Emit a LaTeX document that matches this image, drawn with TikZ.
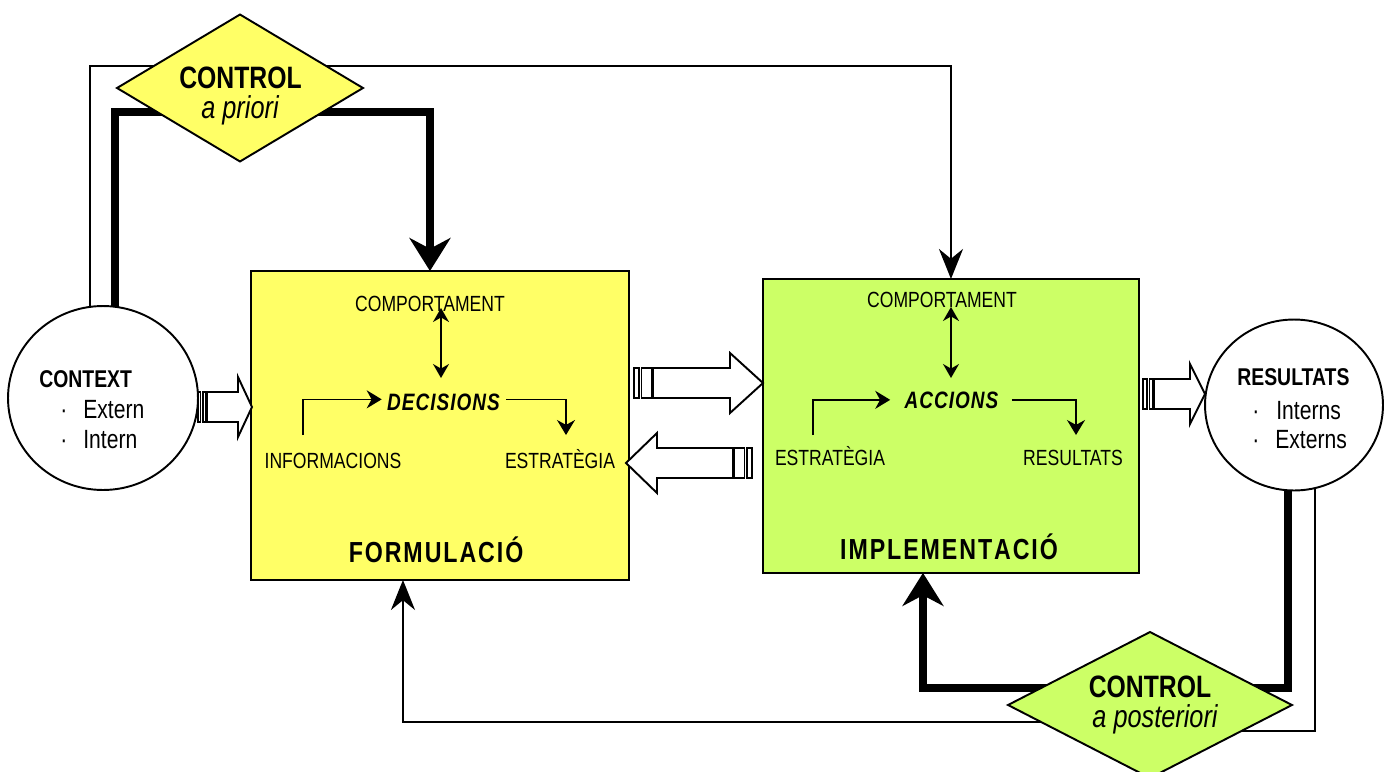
\documentclass[tikz,border=0pt]{standalone}
\usepackage{fontspec}
\setmainfont{Liberation Sans}[FakeStretch=0.8]
\usetikzlibrary{arrows.meta,shapes.geometric,calc}

\definecolor{formyellow}{HTML}{FFFF66}
\definecolor{implgreen}{HTML}{CCFF66}

\pgfdeclarelayer{back}
\pgfsetlayers{back,main}

% font size helper
\newcommand\fsz[1]{\fontsize{#1}{#1}\selectfont}
% letter-spaced words
\newlength\lspamount
\setlength\lspamount{1.1pt}
\def\lsploop#1{\ifx#1\relax\else#1\kern\lspamount\expandafter\lsploop\fi}
\newcommand\lsp[1]{\lsploop#1\relax}

\tikzset{
  pics/striped arrow/.style n args={4}{code={
    \draw[arrowbody] (0,0) -- (-#1,30) -- (-#1,15) -- ({-#1-#2},15)
      -- ({-#1-#2},-15) -- (-#1,-15) -- (-#1,-30) -- cycle;
    \draw[arrowbody] ({-#1-#2-1.5},-15) rectangle ({-#1-#2-1.5-#3},15);
    \draw[arrowbody] ({-#1-#2-4-#3},-15) rectangle ({-#1-#2-4-#3-#4},15);
  }}
}

\begin{document}
\begin{tikzpicture}[x=0.02cm,y=-0.02cm,
  box/.style={draw, line width=1.1pt, inner sep=0pt, outer sep=0pt, anchor=north west},
  round/.style={ellipse, draw, fill=white, line width=1.1pt, inner sep=0pt, outer sep=0pt},
  gate/.style={diamond, draw, line width=1.1pt, inner sep=0pt, outer sep=0pt},
  label/.style={inner sep=0pt, anchor=base, font=\fsz{12.5pt}},
  keyword/.style={inner sep=0pt, anchor=base, font=\fsz{13.5pt}\bfseries\itshape\setlength\lspamount{0.6pt}},
  title/.style={inner sep=0pt, anchor=base, font=\fsz{16.5pt}\bfseries},
  ctrl/.style={inner sep=0pt, anchor=base, font=\fsz{17.6pt}\bfseries},
  ctrlsub/.style={inner sep=0pt, anchor=base, font=\fsz{18pt}\itshape},
  roundtitle/.style={inner sep=0pt, anchor=base west, font=\fsz{13.8pt}\bfseries},
  roundline/.style={inner sep=0pt, anchor=base west, font=\fsz{15pt}},
  thinlink/.style={line width=1.2pt, -{Stealth[length=0.6cm,width=0.48cm]}},
  heavylink/.style={line width=5pt, -{Stealth[length=0.66cm,width=0.82cm]}},
  innerlink/.style={line width=0.9pt, -{Stealth[length=0.3cm,width=0.36cm]}},
  innerboth/.style={line width=0.9pt, {Stealth[length=0.28cm,width=0.32cm]}-{Stealth[length=0.28cm,width=0.32cm]}},
  arrowbody/.style={draw, fill=white, line width=1.1pt, line join=miter},
]
\useasboundingbox (0,0) rectangle (1386,771);

% main blocks
\node[box, fill=formyellow, minimum width=7.56cm, minimum height=6.18cm] (form) at (251,271) {};
\node[box, fill=implgreen, minimum width=7.52cm, minimum height=5.88cm] (impl) at (763,279) {};

% context and results
\node[round, minimum width=3.8cm, minimum height=3.68cm] (ctx) at (103,398) {};
\node[round, minimum width=3.56cm, minimum height=3.42cm] (res) at (1294,405) {};

% control gates
\node[gate, fill=formyellow, minimum width=4.92cm, minimum height=2.94cm, aspect=1.67] (apriori) at (240,88) {};
\node[gate, fill=implgreen, minimum width=5.68cm, minimum height=2.92cm, aspect=1.95] (apost) at (1150,705) {};

\node[ctrl] (aprioriTop) at (240.5,88) {CONTROL};
\node[ctrlsub] (aprioriSub) at (240,118) {a priori};
\node[ctrl] (apostTop) at (1150,697) {CONTROL};
\node[ctrlsub] (apostSub) at (1155,727) {a posteriori};

% circle texts
\node[roundtitle] (ctxT) at (39,387) {CONTEXT};
\node[roundline] (ctxA) at (60,418) {·\hspace{0.32cm}Extern};
\node[roundline] (ctxB) at (60,448) {·\hspace{0.32cm}Intern};
\node[roundtitle] (resT) at (1237,385) {RESULTATS};
\node[roundline] (resA) at (1252,419) {·\hspace{0.34cm}Interns};
\node[roundline] (resB) at (1252,448) {·\hspace{0.32cm}Externs};

% formulation contents
\node[label] (comp1) at (430,311) {COMPORTAMENT};
\node[keyword] (dec) at (444,410.5) {\lsp{DECISIONS}};
\node[label] (info1) at (333,468) {INFORMACIONS};
\node[label] (estr1) at (560,468) {ESTRATÈGIA};
\node[title] (formT) at (437,562) {\lsp{FORMULACIÓ}};

% implementation contents
\node[label] (comp2) at (942,307) {COMPORTAMENT};
\node[keyword] (acc) at (952,408) {\lsp{ACCIONS}};
\node[label] (estr2) at (830,465) {ESTRATÈGIA};
\node[label] (res2) at (1073,465) {RESULTATS};
\node[title] (implT) at (950,559) {\lsp{IMPLEMENTACIÓ}};

% inner flows
\draw[innerboth] ([xshift=0.22cm,yshift=0.06cm]comp1.base) -- ([xshift=-0.06cm,yshift=0.65cm]dec.base);
\draw[innerlink] ([xshift=-0.6cm,yshift=0.66cm]info1.base) |- ([xshift=-0.1cm,yshift=0.06cm]dec.west);
\draw[innerlink] ([xshift=0.1cm,yshift=0.06cm]dec.east) -| ([xshift=0.12cm,yshift=0.66cm]estr1.base);

\draw[innerboth] ([xshift=0.18cm]comp2.base) -- ([xshift=-0.02cm,yshift=0.6cm]acc.base);
\draw[innerlink] ([xshift=-0.34cm,yshift=0.6cm]estr2.base) |- ([xshift=-0.28cm]acc.west);
\draw[innerlink] ([xshift=0.24cm]acc.east) -| ([xshift=0.06cm,yshift=0.6cm]res2.base);

% striped block arrows between stages
\pic at (252,407) {striped arrow={14}{31}{2.5}{2.5}};
\pic at (763,383) {striped arrow={33}{77}{10}{5}};
\pic[xscale=-1] at (626,463) {striped arrow={31}{76}{10}{5}};
\pic at (1205,394) {striped arrow={15}{36}{3}{4}};

% control loops
\begin{pgfonlayer}{back}
\fill[white] (0,0) rectangle (1386,771);
\draw[thinlink] ([xshift=-0.26cm,yshift=-0.1cm]ctx.north) |- ([yshift=0.44cm]apriori.center) -| (impl.north);
\draw[heavylink] ([xshift=0.24cm,yshift=-0.1cm]ctx.north) |- ([yshift=-0.48cm]apriori.center) -| ([xshift=-0.2cm]form.north);
\draw[heavylink] ([xshift=-0.12cm,yshift=0.1cm]res.south) |- ([yshift=0.34cm]apost.center) -| ([xshift=-0.56cm]impl.south);
\draw[thinlink] ([xshift=0.42cm,yshift=0.1cm]res.south) |- ([yshift=-0.52cm]apost.center)
  -- ([yshift=-0.34cm]apost.center) -| ([xshift=-0.74cm]form.south);
\end{pgfonlayer}
\end{tikzpicture}
\end{document}
